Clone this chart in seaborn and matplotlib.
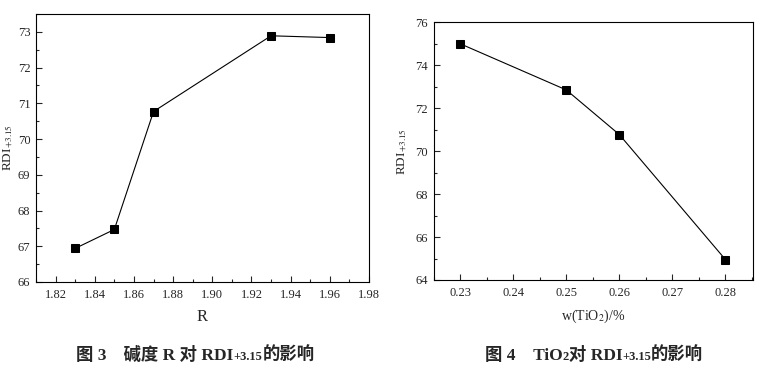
import numpy as np
import pandas as pd
import matplotlib.pyplot as plt
import seaborn as sns

# Fig. 3: basicity R vs RDI+3.15
basicity = [1.83, 1.85, 1.87, 1.93, 1.96]
rdi_basicity = [66.94, 67.47, 70.77, 72.89, 72.84]

# Fig. 4: w(TiO2) vs RDI+3.15
tio2 = [0.23, 0.25, 0.26, 0.28]
rdi_tio2 = [75.0, 72.85, 70.77, 64.95]

# captions as (text, small?) pieces
caption_left = [('图 3', False), ('    碱度 R 对 RDI', False), ('+3.15', True), ('的影响', False)]
caption_right = [('图 4', False), ('    TiO', False), ('2', True), ('对 RDI', False),
                 ('+3.15', True), ('的影响', False)]

sns.set_style('ticks')
plt.rcParams['font.family'] = ['Liberation Serif', 'Noto Sans CJK SC']
plt.rcParams['mathtext.fontset'] = 'stix'
plt.rcParams['xtick.direction'] = 'in'
plt.rcParams['ytick.direction'] = 'in'

fig = plt.figure(figsize=(7.84, 3.71), dpi=100)
ax1 = fig.add_axes([0.0459, 0.2399, 0.4248, 0.7224])
ax2 = fig.add_axes([0.5532, 0.2453, 0.4073, 0.6946])

df1 = pd.DataFrame({'R': basicity, 'RDI': rdi_basicity})
df2 = pd.DataFrame({'TiO2': tio2, 'RDI': rdi_tio2})

sns.lineplot(data=df1, x='R', y='RDI', ax=ax1, color='black', lw=0.8,
             marker='s', markersize=6, markeredgecolor='black')
sns.lineplot(data=df2, x='TiO2', y='RDI', ax=ax2, color='black', lw=0.8,
             marker='s', markersize=6, markeredgecolor='black')

ax1.set_xlim(1.81, 1.98)
ax1.set_ylim(66, 73.5)
ax1.set_xticks(np.arange(1.82, 1.981, 0.02))
ax1.set_xticks(np.arange(1.81, 1.981, 0.01), minor=True)
ax1.set_yticks(np.arange(66, 73.1, 1))
ax1.set_yticks(np.arange(66, 73.6, 0.5), minor=True)
ax1.set_xticklabels([f'{v:.2f}' for v in np.arange(1.82, 1.981, 0.02)])
ax1.set_xlabel('R', fontsize=12, labelpad=6)

ax2.set_xlim(0.225, 0.2852)
ax2.set_ylim(64, 76)
ax2.set_xticks(np.arange(0.23, 0.2801, 0.01))
ax2.set_xticks(np.arange(0.225, 0.2851, 0.005), minor=True)
ax2.set_yticks(np.arange(64, 76.1, 2))
ax2.set_yticks(np.arange(64, 76.1, 1), minor=True)
ax2.set_xticklabels([f'{v:.2f}' for v in np.arange(0.23, 0.2801, 0.01)])
ax2.set_xlabel(r'w(TiO$_2$)/%', fontsize=10, labelpad=6)

for ax, lx in ((ax1, -0.063), (ax2, -0.078)):
    ax.set_ylabel(r'RDI$_{+3.15}$', fontsize=9.5)
    ax.yaxis.set_label_coords(lx, 0.5)
    ax.tick_params(which='major', length=4, width=0.8, labelsize=9, pad=5,
                   top=False, right=False)
    ax.tick_params(which='minor', length=2.5, width=0.8, top=False, right=False)
    ax.tick_params(axis='y', pad=4)
    for s in ax.spines.values():
        s.set_visible(True)
        s.set_linewidth(0.8)
        s.set_color('black')

renderer = fig.canvas.get_renderer()


def draw_caption(pieces, x_center, y):
    # lay the pieces out one after another, then shift to centre them
    texts = []
    x = 0.0
    for s, small in pieces:
        t = fig.text(0, y, s, ha='left', va='baseline', fontweight='bold',
                     fontsize=9 if small else 12.5)
        w = t.get_window_extent(renderer).width / fig.bbox.width
        texts.append((t, x))
        x += w
    start = x_center - x / 2
    for t, off in texts:
        t.set_x(start + off)


draw_caption(caption_left, 0.249, 0.03)
draw_caption(caption_right, 0.758, 0.03)

fig.savefig('out.png', dpi=100)
